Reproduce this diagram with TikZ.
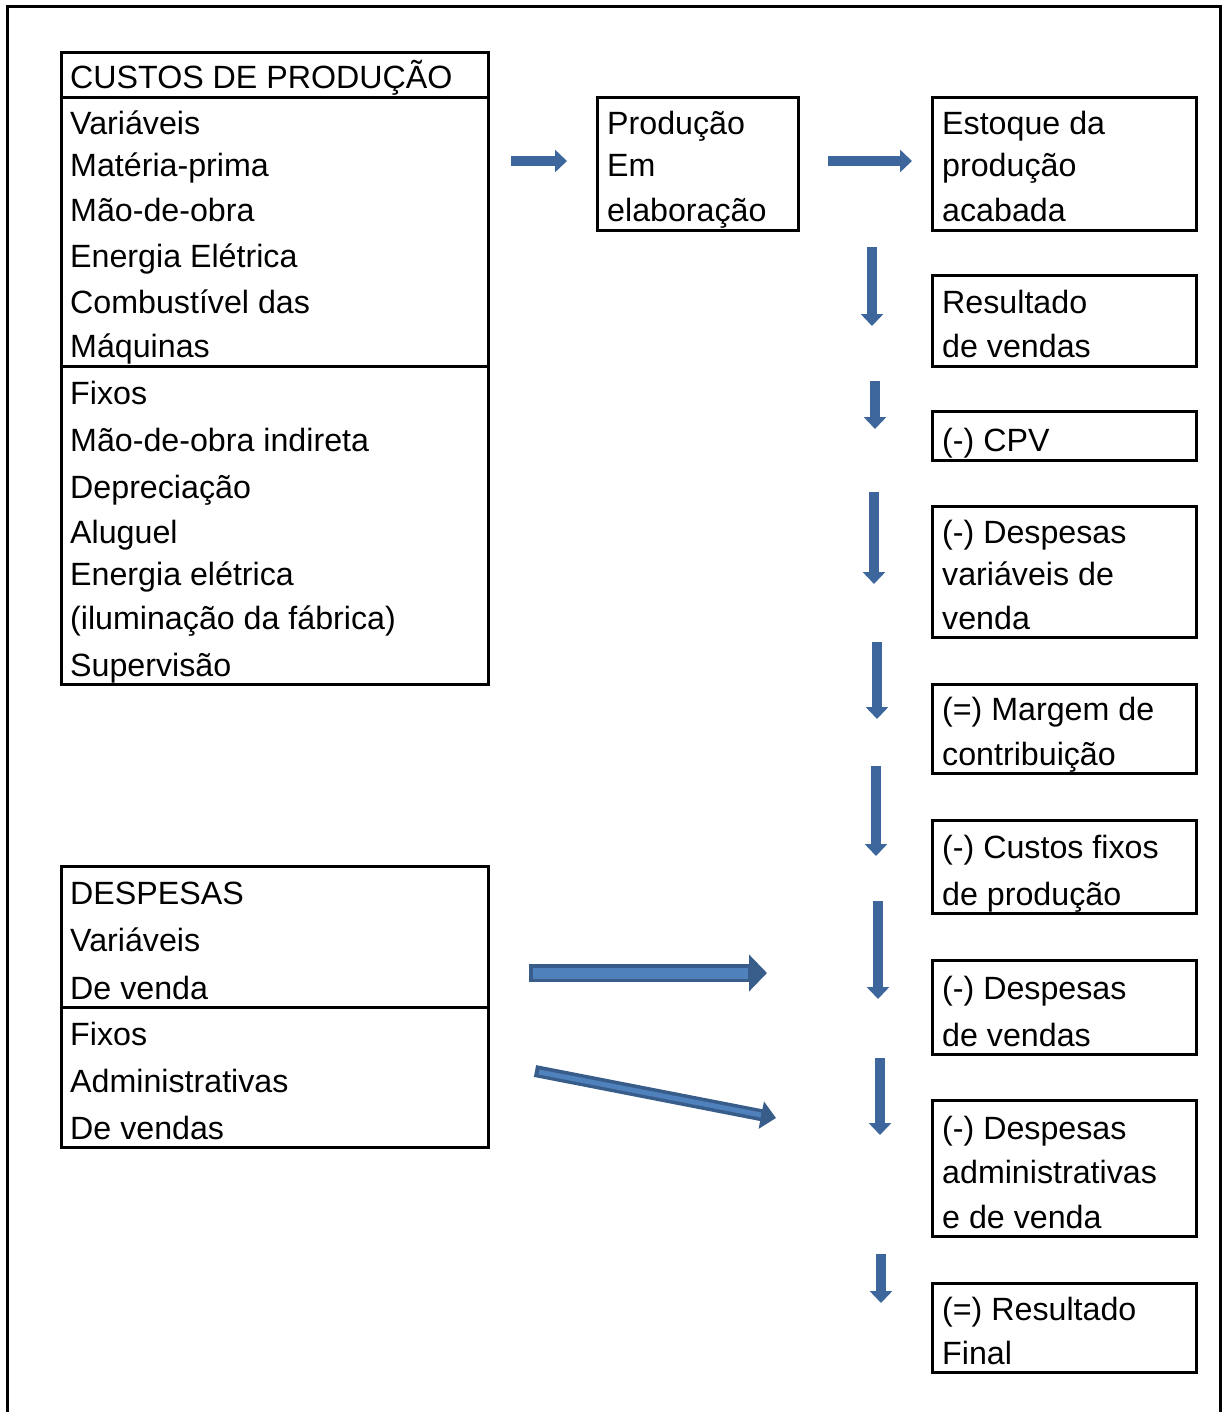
\documentclass[tikz,border=0pt]{standalone}
\usepackage{fontspec}
\setmainfont{Liberation Sans}
\usetikzlibrary{arrows.meta}
\definecolor{arrowblue}{HTML}{3D679C}
\definecolor{arrowdark}{HTML}{385D8A}
\definecolor{arrowlight}{HTML}{4F81BD}
\begin{document}
\begin{tikzpicture}[x=1pt,y=-1pt,
  box/.style={draw=black,line width=3pt,rectangle,inner sep=0pt},
  txt/.style={anchor=base west,inner sep=0pt,font=\fontsize{32.2}{38}\selectfont},
  smallarrow/.style={draw=arrowblue,line width=9.5pt,-{Triangle[width=22pt,length=12pt]}},
  bigouter/.style={draw=arrowdark,line width=18pt,-{Triangle[width=36pt,length=18pt]}},
  biginner/.style={draw=arrowlight,line width=11pt},
  diagouter/.style={draw=arrowdark,line width=12pt,-{Triangle[width=27pt,length=15pt]}},
  diaginner/.style={draw=arrowlight,line width=5pt}]
\useasboundingbox (0,0) rectangle (1224,1412);
% outer frame
\draw[line width=3pt] (7,1412) -- (7,7) -- (1220,7) -- (1220,1412);
% left boxes
\node[box,minimum width=427pt,minimum height=45pt] (chead) at (274.5,75.5) {};
\node[box,minimum width=427pt,minimum height=268pt] (cvar) at (274.5,232) {};
\node[box,minimum width=427pt,minimum height=318pt] (cfix) at (274.5,525) {};
\node[box,minimum width=427pt,minimum height=141pt] (dhead) at (274.5,936.5) {};
\node[box,minimum width=427pt,minimum height=140pt] (dfix) at (274.5,1077) {};
% middle box
\node[box,minimum width=201pt,minimum height=133pt] (prod) at (697.5,164.5) {};
% right boxes
\node[box,minimum width=264pt,minimum height=133pt] (est) at (1064,164.5) {};
\node[box,minimum width=264pt,minimum height=90pt] (res) at (1064,321) {};
\node[box,minimum width=264pt,minimum height=49pt] (cpv) at (1064,435.5) {};
\node[box,minimum width=264pt,minimum height=131pt] (dvar) at (1064,571.5) {};
\node[box,minimum width=264pt,minimum height=89pt] (mc) at (1064,728.5) {};
\node[box,minimum width=264pt,minimum height=93pt] (cf) at (1064,866.5) {};
\node[box,minimum width=264pt,minimum height=94pt] (dv) at (1064,1007) {};
\node[box,minimum width=264pt,minimum height=136pt] (da) at (1064,1168) {};
\node[box,minimum width=264pt,minimum height=89pt] (rf) at (1064,1327.5) {};
% left texts
\foreach \t/\y [count=\i] in {CUSTOS DE PRODUÇÃO/89,Variáveis/135,Matéria-prima/177,Mão-de-obra/222,Energia Elétrica/268,Combustível das/313,Máquinas/357,Fixos/404,Mão-de-obra indireta/451,Depreciação/498,Aluguel/543,Energia elétrica/585,(iluminação da fábrica)/629,Supervisão/676,DESPESAS/904,Variáveis/951,De venda/999,Fixos/1045,Administrativas/1092,De vendas/1139}
  \node[txt] (l\i) at (70,\y) {\t};
% middle texts
\foreach \t/\y [count=\i] in {Produção/135,Em/177,elaboração/222}
  \node[txt] (m\i) at (607,\y) {\t};
% right texts
\foreach \t/\y [count=\i] in {Estoque da/135,produção/177,acabada/222,Resultado/313,de vendas/357,(-) CPV/451,(-) Despesas/543,variáveis de/585,venda/629,(=) Margem de/720,contribuição/765,(-) Custos fixos/858,de produção/905,(-) Despesas/999,de vendas/1046,(-) Despesas/1139,administrativas/1183,e de venda/1228,(=) Resultado/1320,Final/1364}
  \node[txt] (r\i) at (942,\y) {\t};
% arrow end points
\coordinate (h1a) at (511,161); \coordinate (h1b) at (567,161);
\coordinate (h2a) at (828,161); \coordinate (h2b) at (912,161);
\coordinate (v1a) at (872,247); \coordinate (v1b) at (872,326);
\coordinate (v2a) at (875,381); \coordinate (v2b) at (875,429);
\coordinate (v3a) at (874,492); \coordinate (v3b) at (874,584);
\coordinate (v4a) at (877,642); \coordinate (v4b) at (877,719);
\coordinate (v5a) at (876,766); \coordinate (v5b) at (876,856);
\coordinate (v6a) at (878,901); \coordinate (v6b) at (878,999);
\coordinate (v7a) at (880,1058); \coordinate (v7b) at (880,1135);
\coordinate (v8a) at (881,1254); \coordinate (v8b) at (881,1303);
\coordinate (ba) at (529,973); \coordinate (bb) at (767,973); \coordinate (bi) at (748,973);
\coordinate (da1) at (535,1071); \coordinate (db1) at (776,1118);
\coordinate (di1) at (539,1072); \coordinate (di2) at (761,1115);
% arrows
\draw[smallarrow] (h1a) -- (h1b);
\draw[smallarrow] (h2a) -- (h2b);
\foreach \k in {1,...,8} \draw[smallarrow] (v\k a) -- (v\k b);
\draw[bigouter] (ba) -- (bb);
\draw[biginner] ([xshift=4pt]ba) -- (bi);
\draw[diagouter] (da1) -- (db1);
\draw[diaginner] (di1) -- (di2);
\end{tikzpicture}
\end{document}
